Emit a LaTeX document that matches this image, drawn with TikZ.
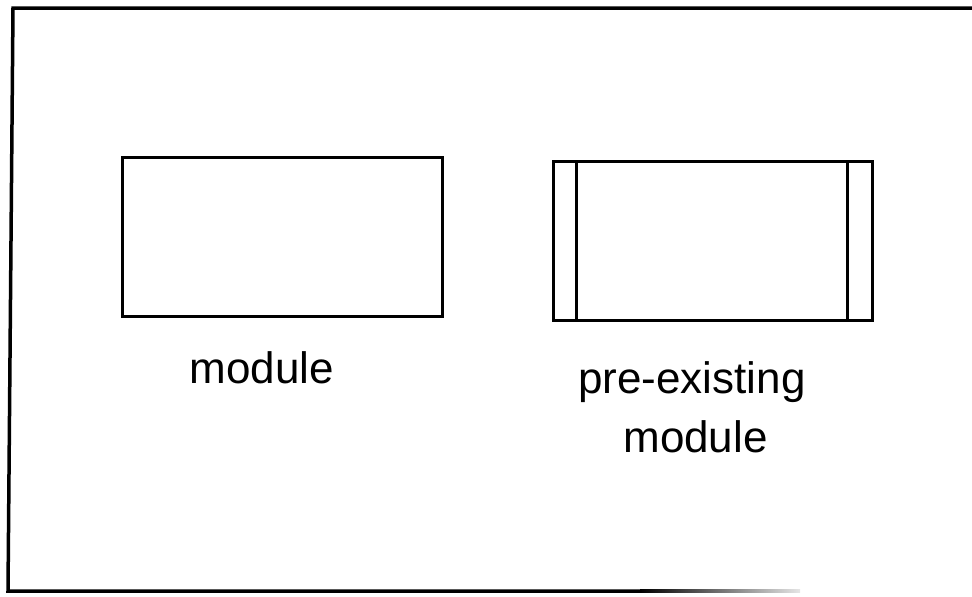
\documentclass[tikz,border=0pt]{standalone}
\usepackage{fontspec}
\setmainfont{Liberation Sans}
\begin{document}
\begin{tikzpicture}[x=1pt,y=-1pt,
  frameline/.style={line width=3.5pt,line cap=rect},
  boxline/.style={draw,line width=3pt},
  lbl/.style={inner sep=0pt,anchor=base,font=\fontsize{44}{48}\selectfont}]
\useasboundingbox (0,0) rectangle (972,597);
% outer frame (open at right)
\coordinate (tl) at (13,8);
\coordinate (tr) at (972,8);
\coordinate (bl) at (8,591);
\coordinate (bm) at (640,591);
\coordinate (br) at (800,591);
\draw[frameline] (tr) -- (tl) -- (bl) -- (bm);
\shade[left color=black, right color=black!10] (640,589.5) rectangle (800,592.5);
% module
\node[boxline,minimum width=320pt,minimum height=159pt,inner sep=0pt] (m1) at (282,236.5) {};
\node[lbl] (t1) at (262,383) {module};
% pre-existing module
\node[boxline,minimum width=319pt,minimum height=159pt,inner sep=0pt] (m2) at (712.5,240.5) {};
\coordinate (l1) at (576,161);
\coordinate (l2) at (576,320);
\coordinate (r1) at (847,161);
\coordinate (r2) at (847,320);
\draw[line width=3pt] (l1) -- (l2);
\draw[line width=3pt] (r1) -- (r2);
\node[lbl] (t2) at (692,393) {pre-existing};
\node[lbl] (t3) at (695.5,452) {module};
\end{tikzpicture}
\end{document}
